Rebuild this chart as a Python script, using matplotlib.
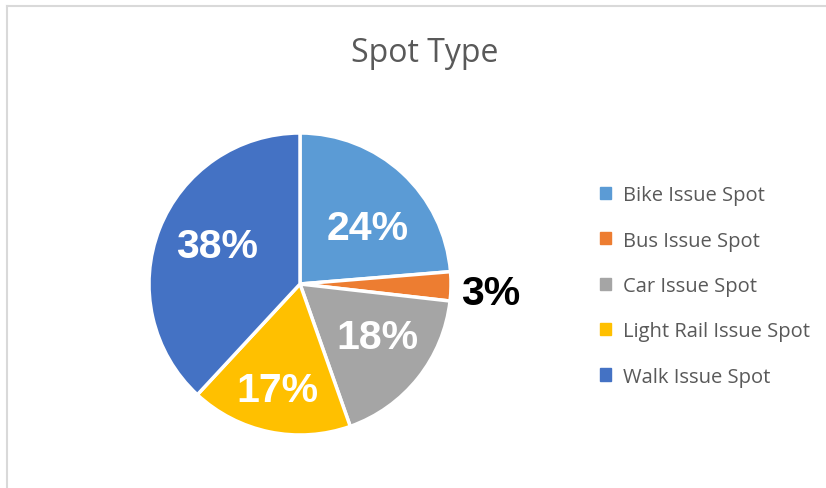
import matplotlib
matplotlib.use("Agg")
import matplotlib.pyplot as plt
from matplotlib.lines import Line2D
import numpy as np

categories = ["Bike Issue Spot", "Bus Issue Spot", "Car Issue Spot",
              "Light Rail Issue Spot", "Walk Issue Spot"]
values = [23.7, 3.1, 17.8, 17.3, 38.1]
colors = ["#5B9BD5", "#ED7D31", "#A5A5A5", "#FFC000", "#4472C4"]
title = "Spot Type"

# label placement (in pie-radius units), as Excel "best fit" places them
label_pos = [(0.45, 0.37), (1.26, -0.06), (0.51, -0.35), (-0.15, -0.70), (-0.55, 0.25)]

W, H = 826, 489
fig = plt.figure(figsize=(W / 100, H / 100), dpi=100)
fig.patch.set_facecolor("white")

# chart border (light gray, left and top)
fig.add_artist(Line2D([7 / W, 7 / W], [0, 1 - 7 / H], color="#D9D9D9", lw=1.5))
fig.add_artist(Line2D([7 / W, 1], [1 - 7 / H, 1 - 7 / H], color="#D9D9D9", lw=1.5))

cx, cy, r = 300, 285, 151
ax = fig.add_axes([(cx - r) / W, (H - cy - r) / H, 2 * r / W, 2 * r / H])
wedges, texts, autotexts = ax.pie(
    values, colors=colors, startangle=90, counterclock=False,
    autopct=lambda p: f"{p:.0f}%", pctdistance=0.6,
    wedgeprops=dict(edgecolor="white", linewidth=2.5),
    textprops=dict(color="white", fontsize=29.5, fontweight="bold",
                   family="Liberation Sans"),
)
ax.set_xlim(-1, 1)
ax.set_ylim(-1, 1)
ax.set_aspect("equal")
ax.axis("off")
for w in wedges:
    w.set_clip_on(False)

for t, p in zip(autotexts, label_pos):
    t.set_position(p)
    t.set_clip_on(False)
autotexts[1].set_color("black")

fig.text(425 / W, 1 - 53 / H, title, ha="center", va="center",
         fontsize=23, color="#595959", family="Open Sans")

handles = [plt.Rectangle((0, 0), 1, 1, color=c) for c in colors]
leg = fig.legend(handles, categories, loc="upper left",
                 bbox_to_anchor=(582 / W, 1 - 168 / H), frameon=False,
                 prop=dict(family="Open Sans", size=14.5),
                 labelcolor="#595959", handlelength=0.55, handleheight=0.55,
                 handletextpad=0.6, labelspacing=1.26)

fig.savefig("out.png", dpi=100, facecolor="white")
